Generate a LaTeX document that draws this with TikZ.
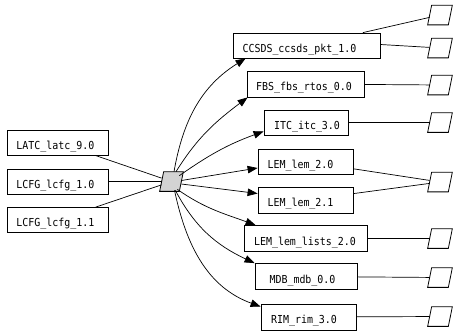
\documentclass[tikz,border=0pt]{standalone}
\usepackage{fontspec}
\newfontfamily\boxfont[FakeStretch=0.906]{DejaVu Sans Mono}
\usetikzlibrary{arrows.meta}
\begin{document}
\begin{tikzpicture}[x=1pt,y=1pt,
  every path/.style={line width=0.7pt},
  box/.style={draw,line width=0.8pt,inner sep=0pt,text height=13.6pt,text depth=0pt,
     font=\boxfont\fontsize{11}{13}\selectfont,anchor=center},
  para/.style={inner sep=0pt,minimum width=20pt,minimum height=19pt},
  pshape/.style={draw,line width=0.8pt},
  hubfill/.style={pshape,fill={rgb,255:red,211;green,211;blue,211}},
  arr/.style={-{Triangle[length=10pt,width=7.5pt]}},
  lnk/.style={-}]
\useasboundingbox (0,0) rectangle (458,-333);
% left boxes
\node[box,minimum width=101pt,minimum height=25pt] (latc) at (57.5,-142.5) {LATC\_latc\_9.0\hspace*{4pt}};
\node[box,minimum width=101pt,minimum height=25pt] (lcfga) at (57.5,-181.5) {LCFG\_lcfg\_1.0\hspace*{4pt}};
\node[box,minimum width=101pt,minimum height=25pt] (lcfgb) at (57.5,-220) {LCFG\_lcfg\_1.1\hspace*{4pt}};
% hub
\node[para,minimum width=19pt] (c) at (171.5,-181.5) {};
\draw[hubfill] ([xshift=2pt]c.north west) -- ([xshift=2pt]c.north east) -- ([xshift=-2pt]c.south east) -- ([xshift=-2pt]c.south west) -- cycle;
% right boxes
\node[box,minimum width=147pt,minimum height=25pt] (ccsds) at (306.5,-45.5) {CCSDS\_ccsds\_pkt\_1.0\hspace*{14pt}};
\node[box,minimum width=117pt,minimum height=26pt] (fbs) at (305.5,-84) {FBS\_fbs\_rtos\_0.0\hspace*{3pt}};
\node[box,minimum width=84pt,minimum height=25pt] (itc) at (306,-122.5) {\hspace*{2pt}ITC\_itc\_3.0};
\node[box,minimum width=95pt,minimum height=25pt] (lema) at (305.5,-161.5) {LEM\_lem\_2.0\hspace*{10pt}};
\node[box,minimum width=95pt,minimum height=26pt] (lemb) at (305.5,-200) {LEM\_lem\_2.1\hspace*{10pt}};
\node[box,minimum width=123pt,minimum height=26pt] (lists) at (305.5,-238.5) {LEM\_lem\_lists\_2.0\hspace*{1pt}};
\node[box,minimum width=102pt,minimum height=26pt] (mdb) at (306,-276.5) {MDB\_mdb\_0.0\hspace*{7pt}};
\node[box,minimum width=95pt,minimum height=26pt] (rim) at (308.5,-317) {RIM\_rim\_3.0\hspace*{9pt}};
% right parallelograms
\foreach \n/\y in {p1/-15,p2/-48,p3/-85,p4/-122.5,p5/-182,p6/-238.5,p7/-277.5,p8/-316.5}{
  \node[para] (\n) at (440,\y) {};
  \draw[pshape] ([xshift=2pt]\n.north west) -- ([xshift=2pt]\n.north east) -- ([xshift=-2pt]\n.south east) -- ([xshift=-2pt]\n.south west) -- cycle;
}
% left edges
\draw[lnk] (latc) -- (c);
\draw[lnk] (lcfga) -- (c);
\draw[lnk] (lcfgb) -- (c);
% hub to right boxes
\draw[arr] ([xshift=2.5pt]c.north) to[out=80,in=212] ([xshift=13pt]ccsds.south west);
\draw[arr] ([xshift=4.5pt]c.north) to[out=58,in=217] ([xshift=1pt]fbs.south west);
\draw[arr] ([xshift=-2pt,yshift=-4pt]c.north east) to[out=35,in=200] ([yshift=4pt]itc.south west);
\draw[arr] ([yshift=1pt]c.east) -- ([yshift=-6.5pt]lema.west);
\draw[arr] ([yshift=-2.5pt]c.east) -- ([yshift=6.5pt]lemb.west);
\draw[arr] ([xshift=-4pt,yshift=2pt]c.south east) to[out=-35,in=160] ([xshift=12pt]lists.north west);
\draw[arr] ([xshift=-6pt,yshift=1pt]c.south east) to[out=-62,in=155] (mdb.north west);
\draw[arr] ([xshift=3pt,yshift=1pt]c.south) to[out=-78,in=160] ([yshift=-3pt]rim.north west);
% right boxes to parallelograms
\draw[lnk] (ccsds) -- (p1);
\draw[lnk] ([yshift=1pt]ccsds.east) -- (p2);
\draw[lnk] (fbs) -- (p3);
\draw[lnk] (itc) -- (p4);
\draw[lnk] (lema) -- (p5);
\draw[lnk] (lemb) -- (p5);
\draw[lnk] (lists) -- (p6);
\draw[lnk] (mdb) -- (p7);
\draw[lnk] (rim) -- (p8);
\end{tikzpicture}
\end{document}
